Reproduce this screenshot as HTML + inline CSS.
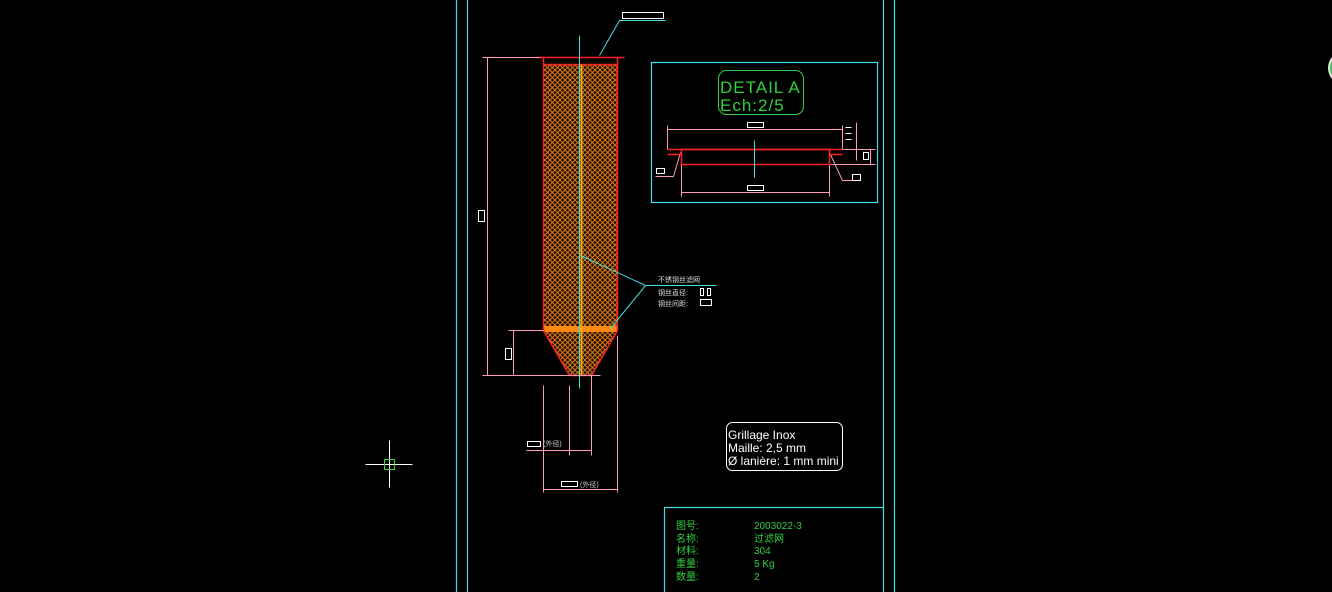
<!DOCTYPE html>
<html><head><meta charset="utf-8"><style>
html,body{margin:0;padding:0;background:#000;width:1332px;height:592px;overflow:hidden}
svg{display:block}
text{font-family:"Liberation Sans","Noto Sans CJK SC",sans-serif}
</style></head><body>
<svg width="1332" height="592" viewBox="0 0 1332 592" xmlns="http://www.w3.org/2000/svg">
<defs>
<pattern id="h" width="5" height="5" patternUnits="userSpaceOnUse">
<rect width="5" height="5" fill="#140800"/>
<path d="M0 0L5 5M5 0L0 5" stroke="#e07a18" stroke-width="1"/>
</pattern>
</defs>
<rect x="543" y="64" width="74" height="266" fill="url(#h)"/>
<polygon points="543,330 617,330 591,375 569,375" fill="url(#h)"/>
<rect x="543" y="326" width="74" height="6" fill="#ff8a10"/>
<g transform="translate(0.5,0.5)">
<g stroke="#40e0e0" stroke-width="1.2" fill="none">
<line x1="456" y1="-1" x2="456" y2="592"/>
<line x1="467" y1="-1" x2="467" y2="592"/>
<line x1="883" y1="-1" x2="883" y2="507"/>
<line x1="894" y1="-1" x2="894" y2="592"/>
<rect x="664" y="507" width="219" height="90"/>
<rect x="651" y="62" width="226" height="140"/>
</g>
<g stroke="#ff2020" stroke-width="1.5" fill="none">
<line x1="535" y1="57" x2="624" y2="57"/>
<line x1="543" y1="57" x2="543" y2="330"/>
<line x1="617" y1="57" x2="617" y2="330"/>
<line x1="569" y1="375" x2="591" y2="375"/>
<line x1="543" y1="64" x2="617" y2="64"/>
<line x1="543" y1="330" x2="569" y2="375"/><line x1="617" y1="330" x2="591" y2="375"/>
</g>
<line x1="581" y1="64" x2="581" y2="375" stroke="#e8b020" stroke-width="2"/>
<line x1="579" y1="35" x2="579" y2="388" stroke="#40e0e0" stroke-width="1"/>
<g stroke="#ff99c0" stroke-width="1" fill="none">
<line x1="482" y1="57" x2="540" y2="57"/>
<line x1="487" y1="57" x2="487" y2="375"/>
<line x1="482" y1="375" x2="600" y2="375"/>
<line x1="508" y1="330" x2="543" y2="330"/>
<line x1="513" y1="330" x2="513" y2="375"/>
<line x1="543" y1="385" x2="543" y2="492"/>
<line x1="617" y1="335" x2="617" y2="492"/>
<line x1="569" y1="385" x2="569" y2="455"/>
<line x1="591" y1="375" x2="591" y2="455"/>
<line x1="526" y1="450" x2="591" y2="450"/>
<line x1="543" y1="489" x2="617" y2="489"/>
<line x1="667" y1="125" x2="667" y2="149"/>
<line x1="667" y1="129" x2="842" y2="129"/>
<line x1="842" y1="125" x2="842" y2="149"/>
<line x1="681" y1="164" x2="681" y2="196"/>
<line x1="829" y1="164" x2="829" y2="196"/>
<line x1="681" y1="192" x2="829" y2="192"/>
<line x1="842" y1="149" x2="875" y2="149"/>
<line x1="829" y1="164" x2="875" y2="164"/>
<line x1="856" y1="122" x2="856" y2="160"/>
<line x1="870" y1="149" x2="870" y2="164"/>
<polyline points="680,152 673,176 655,176"/>
<polyline points="829,152 842,180 860,180"/>
</g>
<g fill="none" stroke="#fff" stroke-width="1">
<rect x="478" y="210" width="6" height="11"/>
<rect x="505" y="348" width="6" height="11"/>
<rect x="527" y="441" width="13" height="5"/>
<rect x="561" y="481" width="16" height="5"/>
<rect x="622" y="12" width="41" height="6"/>
<rect x="747" y="122" width="16" height="5"/><rect x="747" y="185" width="16" height="5"/><rect x="656" y="168" width="8" height="5"/><rect x="852" y="174" width="8" height="6"/><rect x="863" y="152" width="5" height="7"/>
<rect x="700" y="288" width="3" height="7"/><rect x="707" y="288" width="3" height="7"/><rect x="700" y="299" width="11" height="6"/>
<line x1="845" y1="127" x2="851" y2="127"/><line x1="845" y1="133" x2="851" y2="133"/><line x1="845" y1="139" x2="851" y2="139"/>
<line x1="365" y1="464" x2="412" y2="464"/><line x1="389" y1="440" x2="389" y2="487"/>
</g>
<g stroke="#ff2020" stroke-width="1.5" fill="none">
<line x1="667" y1="149" x2="842" y2="149"/>
<line x1="667" y1="154" x2="681" y2="154"/>
<line x1="829" y1="154" x2="842" y2="154"/>
<rect x="681" y="149" width="148" height="15"/>
</g>
<line x1="754" y1="140" x2="754" y2="177" stroke="#40e0e0"/>
<rect x="384" y="459" width="10" height="10" fill="none" stroke="#30d040"/>
<g stroke="#40e0e0" stroke-width="1" fill="none">
<polyline points="665,20 619,20 599,55"/>
<polyline points="580,255 645,285 716,285"/>
<line x1="610" y1="328" x2="645" y2="285"/>
</g>
<rect x="718" y="70" width="85" height="44" rx="8" fill="none" stroke="#30d040"/>
<rect x="726" y="422" width="116" height="48" rx="6" fill="none" stroke="#fff"/>
</g>
<text x="543" y="446" font-size="7" fill="#ccc">(外径)</text>
<text x="580" y="487" font-size="7" fill="#ccc">(外径)</text>
<text x="658" y="282" font-size="7" fill="#ddd">不锈钢丝滤网</text>
<text x="658" y="295" font-size="7" fill="#ddd">钢丝直径:</text>
<text x="658" y="306" font-size="7" fill="#ddd">钢丝间距:</text>
<text x="720" y="93" font-size="17" fill="#30d040" letter-spacing="1">DETAIL A</text>
<text x="720" y="111" font-size="17" fill="#30d040" letter-spacing="1">Ech:2/5</text>
<text x="728" y="439" font-size="12" fill="#fff">Grillage Inox</text>
<text x="728" y="452" font-size="12" fill="#fff">Maille: 2,5 mm</text>
<text x="728" y="465" font-size="12" fill="#fff">Ø lanière: 1 mm mini</text>
<g font-size="10" fill="#30d040">
<text x="676" y="529">图号:</text><text x="754" y="529">2003022-3</text>
<text x="676" y="542">名称:</text><text x="754" y="542">过滤网</text>
<text x="676" y="554">材料:</text><text x="754" y="554">304</text>
<text x="676" y="567">重量:</text><text x="754" y="567">5 Kg</text>
<text x="676" y="580">数量:</text><text x="754" y="580">2</text>
</g>
<circle cx="1345" cy="68" r="16" fill="#40c060" stroke="#ddd" stroke-width="2"/>
</svg>
</body></html>
